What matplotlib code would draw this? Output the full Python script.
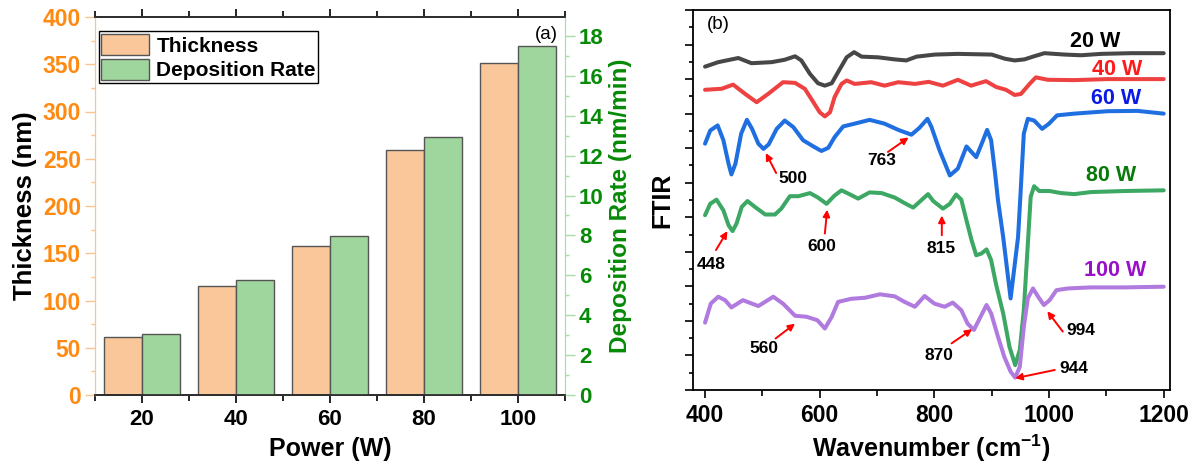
import matplotlib
matplotlib.use("Agg")
import matplotlib.pyplot as plt
from matplotlib.ticker import MultipleLocator, FixedLocator, NullFormatter

plt.rcParams.update({
    "font.family": ["Liberation Sans", "DejaVu Sans"],
    "font.weight": "bold",
    "mathtext.fontset": "custom",
    "mathtext.rm": "Liberation Sans",
    "mathtext.bf": "Liberation Sans:bold",
})

# ---- panel (a) data ----
POWER = ["20", "40", "60", "80", "100"]
THICKNESS = [61, 115, 158, 259, 351]          # nm
DEP_RATE = [3.08, 5.75, 7.95, 12.95, 17.5]    # nm/min

# ---- panel (b) data: (wavenumber, offset intensity) ----
WN_20 = [400, 423, 458, 481, 516, 539, 557, 568, 583, 597, 609, 621, 632, 647,
         660, 673, 702, 731, 751, 769, 801, 841, 900, 923, 940, 957, 972, 992,
         1027, 1056, 1091, 1143, 1200]
Y_20 = [9.36, 9.49, 9.61, 9.46, 9.49, 9.56, 9.66, 9.54, 9.15, 8.88, 8.81, 8.88,
        9.20, 9.63, 9.78, 9.65, 9.63, 9.57, 9.54, 9.65, 9.71, 9.73, 9.71, 9.59,
        9.54, 9.57, 9.65, 9.75, 9.71, 9.69, 9.73, 9.75, 9.75]

WN_40 = [400, 429, 449, 470, 490, 510, 536, 557, 574, 589, 600, 609, 618, 626,
         638, 647, 661, 690, 713, 737, 766, 790, 815, 841, 864, 890, 908, 925,
         940, 951, 966, 977, 998, 1044, 1102, 1200]
Y_40 = [8.69, 8.72, 8.84, 8.57, 8.33, 8.57, 8.91, 8.89, 8.72, 8.33, 8.04, 7.92,
        8.04, 8.48, 8.86, 8.96, 8.86, 8.91, 8.81, 8.91, 8.86, 8.92, 8.81, 8.98,
        8.81, 8.94, 8.77, 8.69, 8.54, 8.57, 8.86, 9.05, 8.98, 8.97, 9.00, 9.00]

WN_60 = [400, 409, 422, 432, 441, 446, 453, 463, 473, 482, 493, 502, 511, 525,
         539, 554, 571, 589, 603, 615, 626, 641, 661, 687, 713, 737, 760, 774,
         788, 795, 809, 827, 841, 856, 873, 885, 892, 899, 906, 911, 920, 933,
         946, 950, 956, 963, 974, 988, 1000, 1014, 1044, 1102, 1154, 1200]
Y_60 = [7.13, 7.51, 7.66, 7.23, 6.55, 6.24, 6.55, 7.42, 7.82, 7.56, 7.13, 6.98,
        7.11, 7.56, 7.80, 7.61, 7.23, 7.05, 6.92, 7.01, 7.32, 7.63, 7.71, 7.82,
        7.71, 7.53, 7.39, 7.59, 7.85, 7.61, 6.94, 6.21, 6.41, 7.05, 6.74, 7.23,
        7.53, 7.23, 6.26, 5.49, 4.43, 2.65, 4.43, 5.60, 7.42, 7.85, 7.80, 7.56,
        7.71, 7.95, 8.00, 8.07, 8.08, 8.00]

WN_80 = [400, 409, 420, 432, 441, 448, 455, 464, 474, 487, 505, 522, 533, 548,
         563, 583, 597, 612, 626, 638, 653, 667, 687, 708, 731, 748, 763, 777,
         789, 798, 815, 827, 838, 847, 856, 865, 873, 882, 891, 899, 908, 920,
         931, 941, 949, 956, 962, 968, 974, 983, 1001, 1021, 1044, 1073, 1131,
         1200]
Y_80 = [5.06, 5.39, 5.51, 5.20, 4.77, 4.60, 4.82, 5.30, 5.47, 5.30, 5.08, 5.08,
        5.25, 5.61, 5.61, 5.70, 5.57, 5.39, 5.63, 5.78, 5.66, 5.54, 5.72, 5.70,
        5.57, 5.41, 5.28, 5.49, 5.67, 5.47, 5.25, 5.39, 5.66, 5.51, 4.91, 4.33,
        3.90, 3.95, 4.07, 3.76, 3.03, 2.22, 1.25, 0.72, 1.16, 2.31, 3.95, 5.59,
        5.90, 5.76, 5.76, 5.70, 5.67, 5.73, 5.76, 5.78]

WN_100 = [400, 410, 423, 435, 446, 466, 493, 519, 536, 557, 577, 596, 609, 621,
          632, 655, 679, 705, 731, 748, 766, 783, 800, 818, 832, 847, 858, 869,
          879, 891, 899, 911, 922, 933, 941, 949, 956, 963, 972, 981, 991, 1001,
          1013, 1033, 1073, 1131, 1200]
Y_100 = [1.95, 2.50, 2.70, 2.60, 2.39, 2.60, 2.43, 2.70, 2.50, 2.15, 2.12, 2.02,
         1.78, 2.12, 2.55, 2.64, 2.67, 2.77, 2.71, 2.55, 2.41, 2.72, 2.50, 2.41,
         2.53, 2.31, 1.92, 1.74, 2.07, 2.46, 2.22, 1.54, 0.96, 0.53, 0.36, 0.67,
         1.83, 2.65, 2.94, 2.70, 2.46, 2.60, 2.89, 2.94, 2.97, 2.97, 2.99]

SERIES_LABELS = ["20 W", "40 W", "60 W", "80 W", "100 W"]
LINE_COLOURS = ["#474747", "#EE4242", "#1F6FE0", "#3CA864", "#B07ADF"]
TEXT_COLOURS = ["#000000", "#FF1A1A", "#0A1AE6", "#0A7A0A", "#9A10C8"]
LABEL_POS = [(1081, 10.1), (1119, 9.28), (1117, 8.43), (1108, 6.21), (1115, 3.47)]

# peak labels: text, text position, arrow tail, arrow head
PEAKS = [
    ("500", (554, 6.12), (524, 6.28), (506, 6.86)),
    ("763", (708, 6.65), (719, 6.89), (755, 7.31)),
    ("448", (410, 3.64), (419, 4.05), (439, 4.60)),
    ("600", (604, 4.16), (609, 4.53), (613, 5.22)),
    ("815", (812, 4.11), (813, 4.48), (813, 5.05)),
    ("560", (502, 1.20), (523, 1.49), (557, 1.92)),
    ("870", (808, 1.01), (830, 1.35), (866, 1.76)),
    ("994", (1056, 1.71), (1024, 1.69), (997, 2.28)),
    ("944", (1043, 0.61), (1010, 0.58), (941, 0.34)),
]

W, H = 1194, 468
fig = plt.figure(figsize=(W / 100, H / 100), dpi=100)

# ================= panel (a) =================
ORANGE_TXT = "#FF8A12"
GREEN_TXT = "#078A07"
ax1 = fig.add_axes([95 / W, 1 - 395 / H, 470 / W, 378 / H])
ax2 = ax1.twinx()
x = range(len(POWER))
bw = 0.4
b1 = ax1.bar([i - bw / 2 for i in x], THICKNESS, width=bw, color="#F9C799",
             edgecolor="#555555", linewidth=1.0, label="Thickness", zorder=2)
b2 = ax2.bar([i + bw / 2 for i in x], DEP_RATE, width=bw, color="#9FD69D",
             edgecolor="#555555", linewidth=1.0, label="Deposition Rate", zorder=2)

ax1.set_xlim(-0.5, 4.5)
ax1.set_ylim(0, 400)
ax2.set_ylim(0, 18.95)
ax1.set_xticks(list(x))
ax1.set_xticklabels(POWER, fontsize=16, fontweight="bold")
ax1.xaxis.set_minor_locator(FixedLocator([-0.5, 0.5, 1.5, 2.5, 3.5, 4.5]))
ax1.tick_params(axis="x", which="major", direction="out", length=6, width=1.2,
                top=True, pad=4)
ax1.tick_params(axis="x", which="minor", direction="out", length=4, width=1.2,
                top=True)
ax1.yaxis.set_major_locator(MultipleLocator(50))
ax1.yaxis.set_minor_locator(MultipleLocator(25))
ax1.tick_params(axis="y", which="major", colors=ORANGE_TXT, direction="out",
                length=7, width=1.0, labelsize=16.5, color="#FCC48E", pad=3)
ax1.tick_params(axis="y", which="minor", direction="out", length=3, width=1.0,
                color="#FCC48E")
for t in ax1.get_yticklabels():
    t.set_fontweight("bold")
ax2.yaxis.set_major_locator(MultipleLocator(2))
ax2.yaxis.set_minor_locator(MultipleLocator(1))
ax2.tick_params(axis="y", which="major", colors=GREEN_TXT, direction="out",
                length=7, width=1.0, labelsize=16, color="#A8DDA8", pad=3)
ax2.tick_params(axis="y", which="minor", direction="out", length=3, width=1.0,
                color="#A8DDA8")
for t in ax2.get_yticklabels():
    t.set_fontweight("bold")

ax1.spines["left"].set_color("#FCC48E")
ax2.spines["left"].set_color("#FCC48E")
ax2.spines["right"].set_color("#A8DDA8")
ax1.spines["right"].set_color("#A8DDA8")
for sp in ("top", "bottom"):
    ax1.spines[sp].set_linewidth(1.3)
    ax2.spines[sp].set_linewidth(1.3)
    ax2.spines[sp].set_color("#333333")

ax1.set_xlabel("Power (W)", fontsize=18, fontweight="bold", labelpad=5)
ax1.set_ylabel("Thickness (nm)", fontsize=18.5, fontweight="bold", labelpad=4)
ax2.set_ylabel("Deposition Rate (nm/min)", fontsize=17.5, fontweight="bold",
               color=GREEN_TXT, labelpad=4)
ax1.text(0.985, 0.975, "(a)", transform=ax1.transAxes, ha="right", va="top",
         fontsize=13.5, fontweight="normal")
leg = ax2.legend([b1, b2], ["Thickness", "Deposition Rate"], loc="upper left",
                 bbox_to_anchor=(0.008, 0.962), fontsize=15, frameon=True,
                 fancybox=False, framealpha=1, edgecolor="black",
                 handlelength=2.3, handleheight=1.2, borderpad=0.12,
                 labelspacing=0.15, handletextpad=0.35, borderaxespad=0.0)
leg.get_frame().set_linewidth(1.0)
for t in leg.get_texts():
    t.set_fontweight("bold")

# ================= panel (b) =================
ax3 = fig.add_axes([693 / W, 1 - 390 / H, 477 / W, 380 / H])
spectra = [(WN_20, Y_20), (WN_40, Y_40), (WN_60, Y_60), (WN_80, Y_80),
           (WN_100, Y_100)]
for (wn, yy), col in zip(spectra, LINE_COLOURS):
    ax3.plot(wn, yy, color=col, linewidth=2.9, solid_joinstyle="round",
             solid_capstyle="round")
for lab, (lx, ly), tc in zip(SERIES_LABELS, LABEL_POS, TEXT_COLOURS):
    ax3.text(lx, ly, lab, color=tc, fontsize=15.5, fontweight="bold",
             ha="center", va="center")
for lab, txy, tail, head in PEAKS:
    ax3.annotate("", xy=head, xytext=tail,
                 arrowprops=dict(arrowstyle="-|>", color="#FF0000", lw=1.4,
                                 mutation_scale=10, shrinkA=0, shrinkB=0))
    ax3.text(txy[0], txy[1], lab, fontsize=12.5, fontweight="bold",
             ha="center", va="center")

ax3.set_xlim(379, 1211)
ax3.set_ylim(0, 11)
ax3.xaxis.set_major_locator(MultipleLocator(200))
ax3.xaxis.set_minor_locator(MultipleLocator(100))
ax3.yaxis.set_major_locator(MultipleLocator(1))
ax3.yaxis.set_minor_locator(MultipleLocator(0.5))
ax3.yaxis.set_major_formatter(NullFormatter())
ax3.tick_params(axis="x", which="major", direction="out", length=6, width=1.2,
                labelsize=16.5, pad=4)
ax3.tick_params(axis="x", which="minor", direction="out", length=4, width=1.2)
ax3.tick_params(axis="y", which="major", direction="out", length=6, width=1.2)
ax3.tick_params(axis="y", which="minor", direction="out", length=3, width=1.2)
for t in ax3.get_xticklabels():
    t.set_fontweight("bold")
for sp in ax3.spines.values():
    sp.set_linewidth(1.3)
ax3.set_xlabel(r"Wavenumber (cm$^{\mathbf{-1}}$)", fontsize=18,
               fontweight="bold", labelpad=4)
ax3.set_ylabel("FTIR", fontsize=18, fontweight="bold", labelpad=4)
ax3.text(0.03, 0.985, "(b)", transform=ax3.transAxes, ha="left", va="top",
         fontsize=13.5, fontweight="normal")

fig.savefig("out.png", dpi=100)
